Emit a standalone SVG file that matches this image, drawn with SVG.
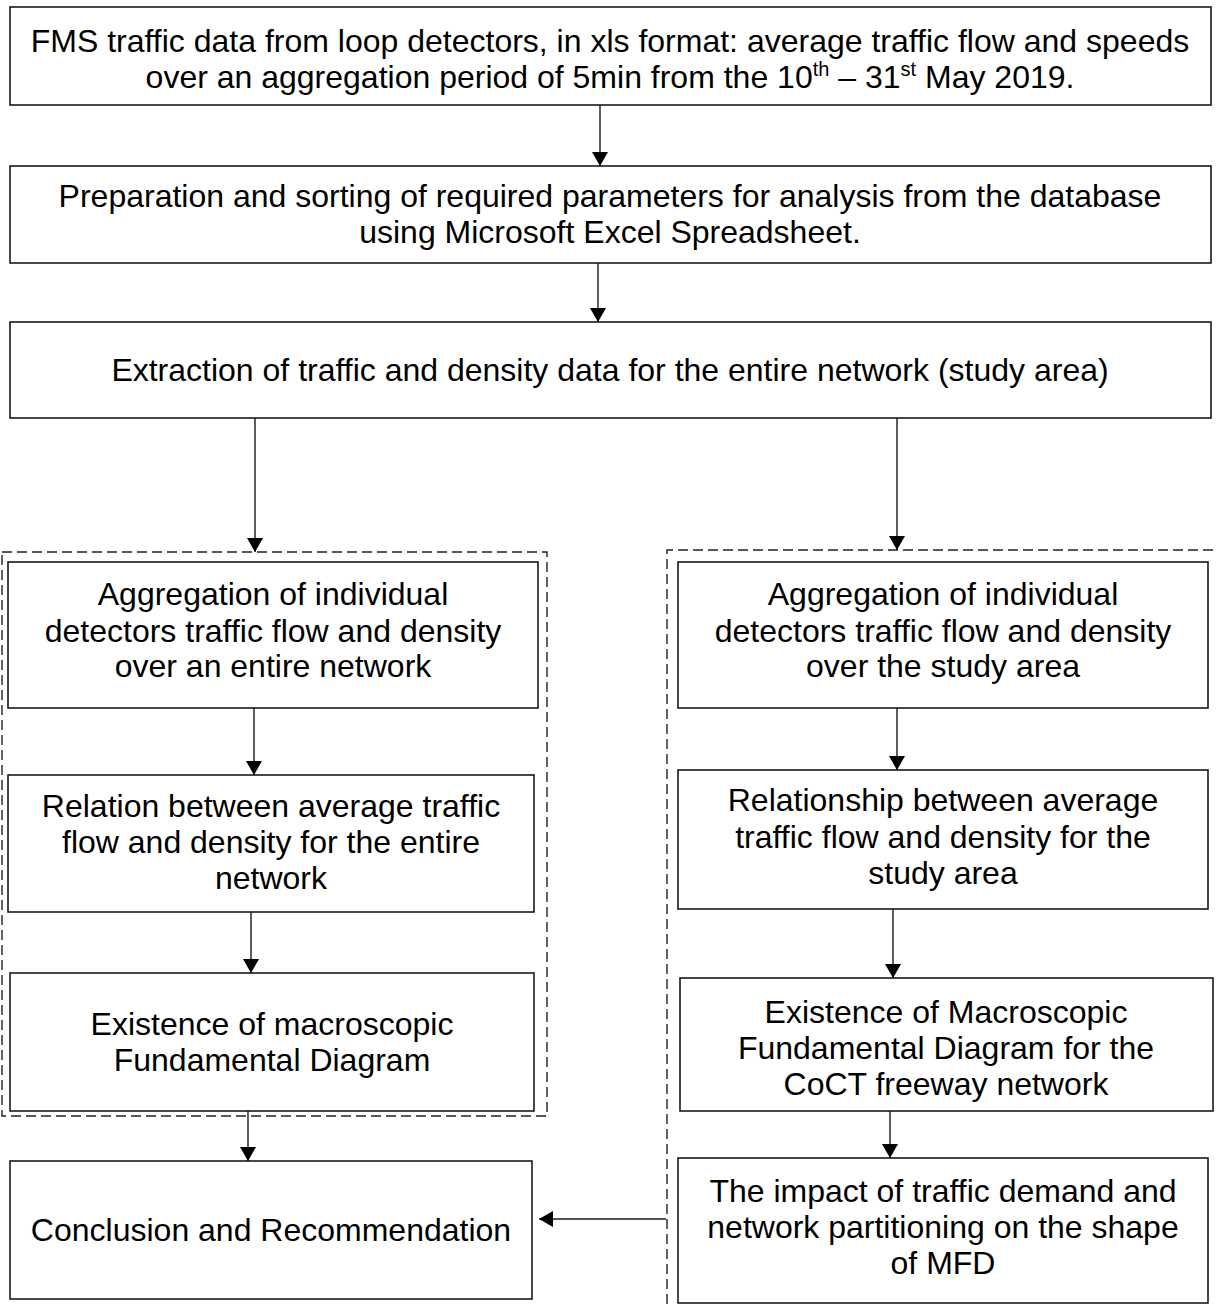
<svg xmlns="http://www.w3.org/2000/svg" width="1217" height="1304" viewBox="0 0 1217 1304">
<defs>
<style>
.box{fill:#fff;stroke:#1a1a1a;stroke-width:1.6}
.dash{fill:none;stroke:#222;stroke-width:1.4;stroke-dasharray:10,5}
.conn{fill:none;stroke:#1a1a1a;stroke-width:1.4}
text{font-family:"Liberation Sans",Arial,sans-serif;font-size:32px;fill:#000;text-anchor:middle}
.sup{font-size:20px}
</style>
<marker id="ah" markerUnits="userSpaceOnUse" markerWidth="14" markerHeight="16" viewBox="0 0 14 16" refX="14" refY="8" orient="auto">
<path d="M0,0 L14,8 L0,16 Z" fill="#000"/>
</marker>
</defs>
<rect width="1217" height="1304" fill="#fff"/>
<g id="groups">
<rect class="dash" x="2" y="552" width="545" height="564"/>
<path class="dash" d="M667,1304 V550 H1217"/>
</g>
<g id="n1"><rect class="box" x="10" y="7" width="1201" height="98"/>
<text x="610" y="52">FMS traffic data from loop detectors, in xls format: average traffic flow and speeds</text>
<text x="610" y="88">over an aggregation period of 5min from the 10<tspan class="sup" dy="-12">th</tspan><tspan dy="12"> – 31</tspan><tspan class="sup" dy="-12">st</tspan><tspan dy="12"> May 2019.</tspan></text></g>
<g id="n2"><rect class="box" x="10" y="166" width="1201" height="97"/>
<text x="610" y="207">Preparation and sorting of required parameters for analysis from the database</text>
<text x="610" y="243">using Microsoft Excel Spreadsheet.</text></g>
<g id="n3"><rect class="box" x="10" y="322" width="1201" height="96"/>
<text x="610" y="381">Extraction of traffic and density data for the entire network (study area)</text></g>
<g id="l1"><rect class="box" x="8" y="562" width="530" height="146"/>
<text x="273" y="605">Aggregation of individual</text>
<text x="273" y="642">detectors traffic flow and density</text>
<text x="273" y="677">over an entire network</text></g>
<g id="l2"><rect class="box" x="8" y="775" width="526" height="137"/>
<text x="271" y="817">Relation between average traffic</text>
<text x="271" y="853">flow and density for the entire</text>
<text x="271" y="889">network</text></g>
<g id="l3"><rect class="box" x="10" y="973" width="524" height="138"/>
<text x="272" y="1035">Existence of macroscopic</text>
<text x="272" y="1071">Fundamental Diagram</text></g>
<g id="l4"><rect class="box" x="10" y="1161" width="522" height="138"/>
<text x="271" y="1241">Conclusion and Recommendation</text></g>
<g id="r1"><rect class="box" x="678" y="562" width="530" height="146"/>
<text x="943" y="605">Aggregation of individual</text>
<text x="943" y="642">detectors traffic flow and density</text>
<text x="943" y="677">over the study area</text></g>
<g id="r2"><rect class="box" x="678" y="770" width="530" height="139"/>
<text x="943" y="811">Relationship between average</text>
<text x="943" y="848">traffic flow and density for the</text>
<text x="943" y="884">study area</text></g>
<g id="r3"><rect class="box" x="680" y="978" width="533" height="133"/>
<text x="946" y="1023">Existence of Macroscopic</text>
<text x="946" y="1059">Fundamental Diagram for the</text>
<text x="946" y="1095">CoCT freeway network</text></g>
<g id="r4"><rect class="box" x="678" y="1158" width="530" height="145"/>
<text x="943" y="1202">The impact of traffic demand and</text>
<text x="943" y="1238">network partitioning on the shape</text>
<text x="943" y="1274">of MFD</text></g>
<g id="connectors">
<line class="conn" x1="600" y1="105" x2="600" y2="166" marker-end="url(#ah)"/>
<line class="conn" x1="598" y1="263" x2="598" y2="322" marker-end="url(#ah)"/>
<line class="conn" x1="255" y1="418" x2="255" y2="552" marker-end="url(#ah)"/>
<line class="conn" x1="897" y1="418" x2="897" y2="550" marker-end="url(#ah)"/>
<line class="conn" x1="254" y1="708" x2="254" y2="775" marker-end="url(#ah)"/>
<line class="conn" x1="251" y1="912" x2="251" y2="973" marker-end="url(#ah)"/>
<line class="conn" x1="248" y1="1111" x2="248" y2="1161" marker-end="url(#ah)"/>
<line class="conn" x1="897" y1="708" x2="897" y2="770" marker-end="url(#ah)"/>
<line class="conn" x1="893" y1="909" x2="893" y2="978" marker-end="url(#ah)"/>
<line class="conn" x1="890" y1="1111" x2="890" y2="1158" marker-end="url(#ah)"/>
<line class="conn" x1="666" y1="1219" x2="539" y2="1219" marker-end="url(#ah)"/>
</g>
</svg>
